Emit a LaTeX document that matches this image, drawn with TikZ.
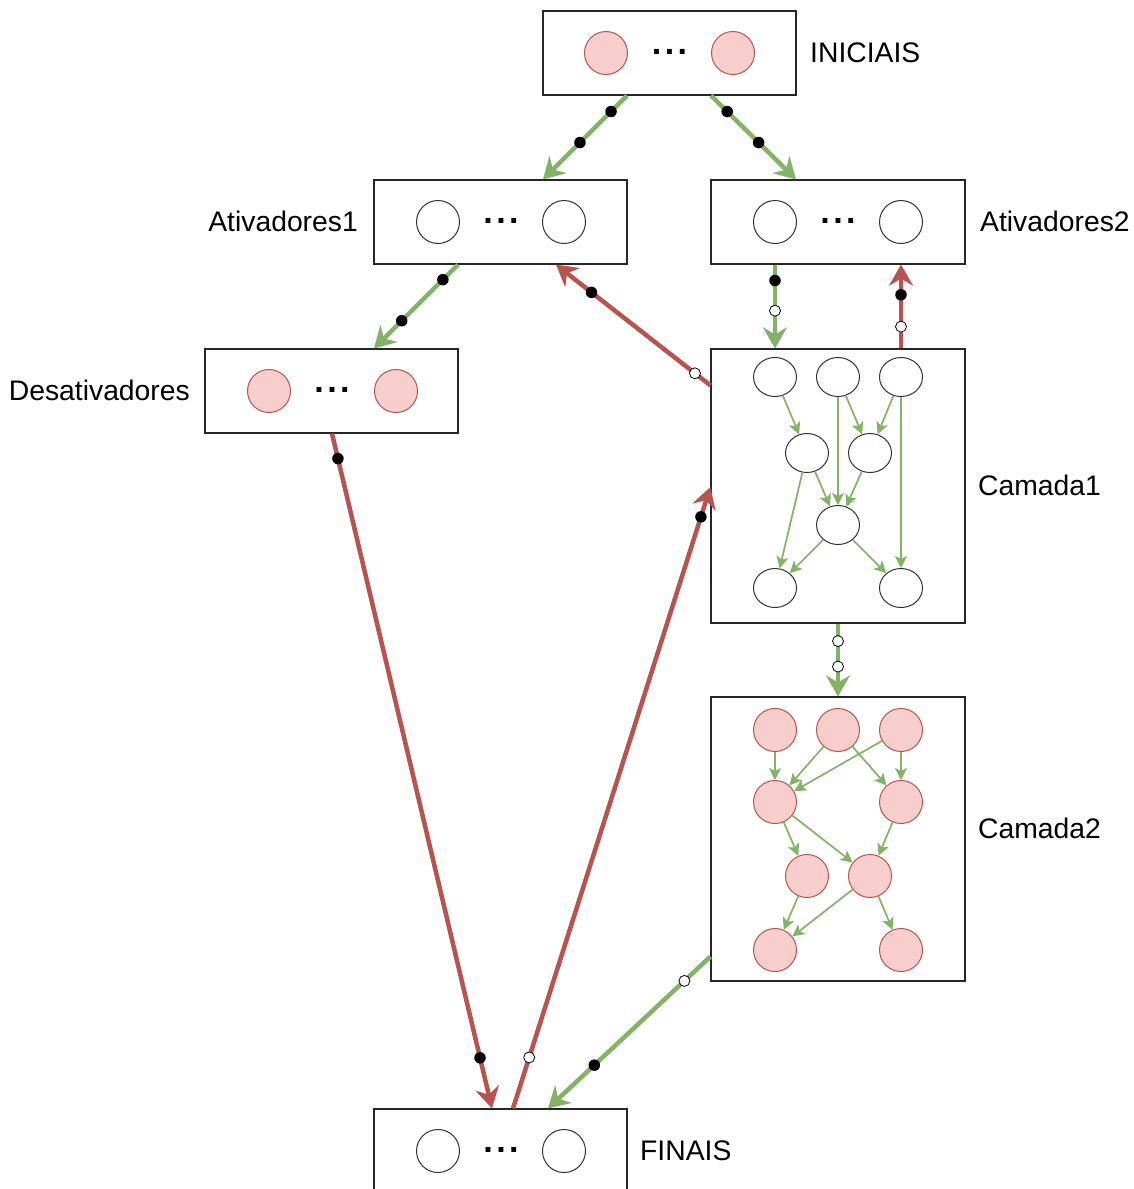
\documentclass[tikz,border=0pt]{standalone}
\usepackage{fontspec}
\setmainfont{Liberation Sans}
\usetikzlibrary{arrows.meta,shapes.geometric,calc}
\definecolor{grn}{HTML}{82B366}
\definecolor{rd}{HTML}{B85450}
\definecolor{pinkfill}{HTML}{F8CECC}
\definecolor{edgegray}{HTML}{333333}

\begin{document}
\begin{tikzpicture}[x=1pt,y=-1pt,
  box/.style={rectangle, draw=black!85, line width=1.2pt, fill=white,
    minimum width=253pt, minimum height=84pt, inner sep=0pt},
  wc/.style={circle, draw=edgegray, line width=1pt, fill=white, minimum size=43pt, inner sep=0pt},
  pc/.style={circle, draw=rd, line width=1pt, fill=pinkfill, minimum size=43pt, inner sep=0pt},
  we/.style={ellipse, draw=edgegray, line width=1pt, fill=white,
    minimum width=43pt, minimum height=39pt, inner sep=0pt},
  lbl/.style={font=\fontsize{28.3}{33}\selectfont, inner sep=0pt},
  ell/.style={font=\bfseries\fontsize{34}{36}\selectfont, inner sep=0pt, anchor=base},
  gconn/.style={draw=grn, line width=4.5pt, -{Stealth[length=21pt,width=24pt,inset=7pt]}},
  rconn/.style={draw=rd, line width=4.5pt, -{Stealth[length=21pt,width=24pt,inset=7pt]}},
  bdot/.style={circle, fill=black, minimum size=11.5pt, inner sep=0pt},
  wdot/.style={circle, draw=black, fill=white, line width=0.8pt, minimum size=11pt, inner sep=0pt},
  iarr/.style={draw=grn, line width=1.7pt, -{Stealth[length=12pt,width=12pt,inset=3pt]}}
]
\path[use as bounding box] (0,0) rectangle (1134,1189);
\clip (0,0) rectangle (1134,1189);
\fill[white] (0,0) rectangle (1134,1189);

% boxes
\node[box] (ini) at (669.5,53) {};
\node[box] (at1) at (500.5,222) {};
\node[box, minimum width=254pt] (at2) at (838,222) {};
\node[box] (des) at (331.5,391) {};
\node[box, minimum width=254pt, minimum height=274pt] (cam1) at (838,486) {};
\node[box, minimum width=254pt, minimum height=284pt] (cam2) at (838,839) {};
\node[box] (fin) at (500.5,1151) {};

% labels
\node[lbl, anchor=base west] (liniciais) at (810,62) {INICIAIS};
\node[lbl, anchor=base east] (lat1) at (358,231) {Ativadores1};
\node[lbl, anchor=base west] (lat2) at (980,231) {Ativadores2};
\node[lbl, anchor=base east] (ldes) at (190,400) {Desativadores};
\node[lbl, anchor=base west] (lcam1) at (978,495) {Camada1};
\node[lbl, anchor=base west] (lcam2) at (978,838) {Camada2};
\node[lbl, anchor=base west] (lfin) at (640,1160) {FINAIS};

% contents of the single-row boxes
\node[pc] (ini1) at (606,53) {};
\node[pc] (ini2) at (733,53) {};
\node[ell] (inidots) at (669.5,54) {.\kern3.5pt.\kern3.5pt.};
\node[wc] (at1a) at (438,222) {};
\node[wc] (at1b) at (564,222) {};
\node[ell] (at1dots) at (501,223) {.\kern3.5pt.\kern3.5pt.};
\node[wc] (at2a) at (775,222) {};
\node[wc] (at2b) at (901,222) {};
\node[ell] (at2dots) at (838,223) {.\kern3.5pt.\kern3.5pt.};
\node[pc] (desa) at (269,391) {};
\node[pc] (desb) at (396,391) {};
\node[ell] (desdots) at (332,392) {.\kern3.5pt.\kern3.5pt.};
\node[wc] (fina) at (438,1151) {};
\node[wc] (finb) at (564,1151) {};
\node[ell] (findots) at (501,1152) {.\kern3.5pt.\kern3.5pt.};

% layer 1
\node[we] (c1a) at (775,377) {};
\node[we] (c1b) at (838,377) {};
\node[we] (c1c) at (901,377) {};
\node[we] (c1d) at (807,453) {};
\node[we] (c1e) at (870,453) {};
\node[we] (c1f) at (838,525) {};
\node[we] (c1g) at (775,588) {};
\node[we] (c1h) at (901,588) {};
\draw[iarr] (c1a) -- (c1d);
\draw[iarr] (c1b) -- (c1f);
\draw[iarr] (c1b) -- (c1e);
\draw[iarr] (c1c) -- (c1e);
\draw[iarr] (c1c) -- (c1h);
\draw[iarr] (c1d) -- (c1f);
\draw[iarr] (c1e) -- (c1f);
\draw[iarr] (c1d) -- (c1g);
\draw[iarr] (c1f) -- (c1g);
\draw[iarr] (c1f) -- (c1h);

% layer 2
\node[pc] (c2a) at (775,730) {};
\node[pc] (c2b) at (838,730) {};
\node[pc] (c2c) at (901,730) {};
\node[pc] (c2d) at (775,802) {};
\node[pc] (c2e) at (901,802) {};
\node[pc] (c2f) at (807,876) {};
\node[pc] (c2g) at (870,876) {};
\node[pc] (c2h) at (775,950) {};
\node[pc] (c2i) at (901,950) {};
\draw[iarr] (c2a) -- (c2d);
\draw[iarr] (c2b) -- (c2d);
\draw[iarr] (c2c) -- (c2d);
\draw[iarr] (c2b) -- (c2e);
\draw[iarr] (c2c) -- (c2e);
\draw[iarr] (c2d) -- (c2f);
\draw[iarr] (c2d) -- (c2g);
\draw[iarr] (c2e) -- (c2g);
\draw[iarr] (c2f) -- (c2h);
\draw[iarr] (c2g) -- (c2h);
\draw[iarr] (c2g) -- (c2i);

% connectors between boxes
\draw[gconn] ($(ini.south)+(-42.5,0)$) -- node[pos=0.19,bdot]{} node[pos=0.56,bdot]{} ($(at1.north)+(42.5,0)$);
\draw[gconn] ($(ini.south)+(41.5,0)$) -- node[pos=0.19,bdot]{} node[pos=0.56,bdot]{} ($(at2.north)+(-42,0)$);
\draw[gconn] ($(at1.south)+(-42.5,0)$) -- node[pos=0.18,bdot]{} node[pos=0.67,bdot]{} ($(des.north)+(42.5,0)$);
\draw[gconn] ($(at2.south)+(-63,0)$) -- node[pos=0.19,bdot]{} node[pos=0.55,wdot]{} ($(cam1.north)+(-63,0)$);
\draw[rconn] ($(cam1.north)+(63,0)$) -- node[pos=0.26,wdot]{} node[pos=0.64,bdot]{} ($(at2.south)+(63,0)$);
\draw[rconn] ($(cam1.north west)+(0,37)$) -- node[pos=0.10,wdot]{} node[pos=0.77,bdot]{} ($(at1.south)+(55.5,0)$);
\draw[rconn] ($(des.south)+(0.5,0)$) -- node[pos=0.037,bdot]{} node[pos=0.925,bdot]{} ($(fin.north)+(-8.5,0)$);
\draw[rconn] ($(fin.north)+(12.5,0)$) -- node[pos=0.082,wdot]{} node[pos=0.952,bdot]{} ($(cam1.west)+(0,1)$);
\draw[gconn] (cam1.south) -- node[pos=0.24,wdot]{} node[pos=0.59,wdot]{} (cam2.north);
\draw[gconn] ($(cam2.south west)+(0,-25)$) -- node[pos=0.16,wdot]{} node[pos=0.715,bdot]{} ($(fin.north)+(47.5,0)$);
\end{tikzpicture}
\end{document}
